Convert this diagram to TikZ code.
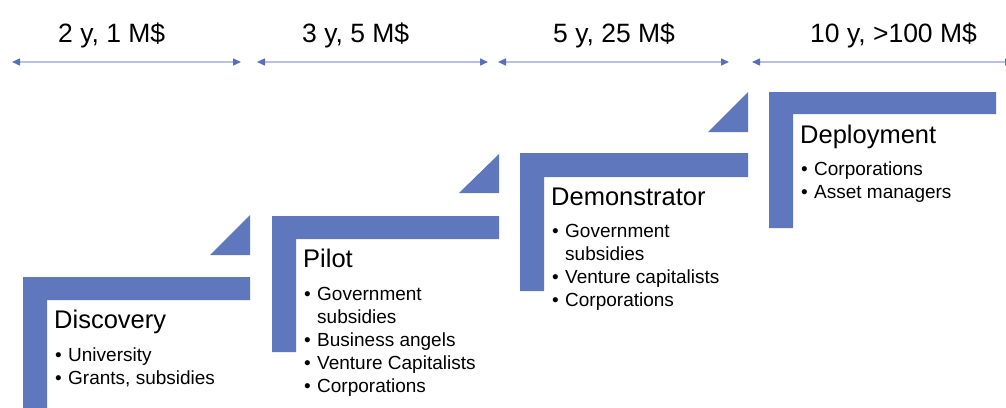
\documentclass[tikz,border=0pt]{standalone}
\usepackage{fontspec}
\setmainfont{Liberation Sans}
\usetikzlibrary{arrows.meta}
\definecolor{stepblue}{RGB}{94,119,189}
\definecolor{spanline}{RGB}{184,194,224}
\definecolor{spantip}{RGB}{86,112,184}
% bullet with a fixed hanging indent
\newcommand\bitem{\makebox[13pt][l]{•}}
\newcommand\bcont{\hspace*{13pt}}
\begin{document}
\begin{tikzpicture}[x=1pt,y=-1pt,
  stairfill/.style={fill=stepblue,draw=none},
  stagetitle/.style={anchor=base west,inner sep=0pt,font=\fontsize{25.5}{30}\selectfont},
  stagelist/.style={anchor=base west,inner sep=0pt,font=\fontsize{19}{23}\selectfont},
  spanlabel/.style={anchor=base west,inner sep=0pt,font=\fontsize{26.5}{31}\selectfont},
  spanarrow/.style={line width=1.5pt,draw=spanline,
    {Triangle[length=8pt,width=7pt,color=spantip]}-{Triangle[length=8pt,width=7pt,color=spantip]}},
]
\useasboundingbox (0,0) rectangle (1006,407);
\fill[white] (0,0) rectangle (1006,407);

% time / budget spans
\coordinate (s1l) at (12,62);  \coordinate (s1r) at (241,62);
\coordinate (s2l) at (257,62); \coordinate (s2r) at (488,62);
\coordinate (s3l) at (498,62); \coordinate (s3r) at (729,62);
\coordinate (s4l) at (752,62); \coordinate (s4r) at (1013,62);
\draw[spanarrow] (s1l) -- (s1r);
\draw[spanarrow] (s2l) -- (s2r);
\draw[spanarrow] (s3l) -- (s3r);
\draw[spanarrow] (s4l) -- (s4r);
\node[spanlabel] (span1) at (58,42) {2 y, 1 M\$};
\node[spanlabel] (span2) at (302,42) {3 y, 5 M\$};
\node[spanlabel] (span3) at (553,42) {5 y, 25 M\$};
\node[spanlabel] (span4) at (810,42) {10 y, >100 M\$};

% stage 1
\begin{scope}[shift={(23,277)}]
  \fill[stairfill] (0,0) -- (227,0) -- (227,23) -- (24,23) -- (24,136) -- (0,136) -- cycle;
  \fill[stairfill] (187,-22) -- (227,-62) -- (227,-22) -- cycle;
  \node[stagetitle] (discovery) at (31,51) {Discovery};
  \node[stagelist] (discovery-list) at (32,84) {\begin{tabular}[t]{@{}l@{}}
    \bitem University\\
    \bitem Grants, subsidies
  \end{tabular}};
\end{scope}

% stage 2
\begin{scope}[shift={(272,216)}]
  \fill[stairfill] (0,0) -- (227,0) -- (227,23) -- (24,23) -- (24,136) -- (0,136) -- cycle;
  \fill[stairfill] (187,-23) -- (227,-62) -- (227,-23) -- cycle;
  \node[stagetitle] (pilot) at (31,51) {Pilot};
  \node[stagelist] (pilot-list) at (32,84) {\begin{tabular}[t]{@{}l@{}}
    \bitem Government\\
    \bcont subsidies\\
    \bitem Business angels\\
    \bitem Venture Capitalists\\
    \bitem Corporations
  \end{tabular}};
\end{scope}

% stage 3
\begin{scope}[shift={(520,153)}]
  \fill[stairfill] (0,0) -- (228,0) -- (228,24) -- (24,24) -- (24,138) -- (0,138) -- cycle;
  \fill[stairfill] (188,-21) -- (228,-61) -- (228,-21) -- cycle;
  \node[stagetitle] (demonstrator) at (31,52) {Demonstrator};
  \node[stagelist] (demonstrator-list) at (32,84) {\begin{tabular}[t]{@{}l@{}}
    \bitem Government\\
    \bcont subsidies\\
    \bitem Venture capitalists\\
    \bitem Corporations
  \end{tabular}};
\end{scope}

% stage 4
\begin{scope}[shift={(769,92)}]
  \fill[stairfill] (0,0) -- (227,0) -- (227,22) -- (24,22) -- (24,136) -- (0,136) -- cycle;
  \node[stagetitle] (deployment) at (31,51) {Deployment};
  \node[stagelist] (deployment-list) at (32,83) {\begin{tabular}[t]{@{}l@{}}
    \bitem Corporations\\
    \bitem Asset managers
  \end{tabular}};
\end{scope}
\end{tikzpicture}
\end{document}
